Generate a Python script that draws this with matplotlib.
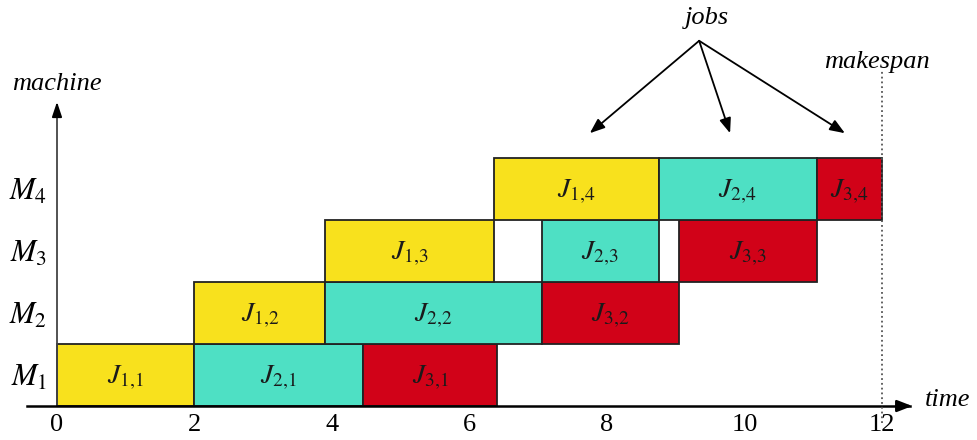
import numpy as np
import matplotlib.pyplot as plt

plt.rcParams['mathtext.fontset'] = 'stix'
plt.rcParams['font.family'] = ['Liberation Serif', 'DejaVu Serif']

machines = ['$M_1$', '$M_2$', '$M_3$', '$M_4$']
# per machine: (job, start, end)
m1 = [(1, 0.0, 2.0), (2, 2.0, 4.45), (3, 4.45, 6.4)]
m2 = [(1, 2.0, 3.9), (2, 3.9, 7.05), (3, 7.05, 9.05)]
m3 = [(1, 3.9, 6.35), (2, 7.05, 8.75), (3, 9.05, 11.05)]
m4 = [(1, 6.35, 8.75), (2, 8.75, 11.05), (3, 11.05, 12.0)]
schedule = [m1, m2, m3, m4]
makespan = 12
xticks = [0, 2, 4, 6, 8, 10, 12]
job_colors = {1: '#f8e11d', 2: '#4ee0c4', 3: '#d10218'}

fig = plt.figure(figsize=(9.78, 4.40), dpi=100)
ax = fig.add_axes([0, 0, 1, 1])
ax.set_xlim(-0.829, 13.396)
ax.set_ylim(-0.548, 6.548)

for m, tasks in enumerate(schedule):
    for job, start, end in tasks:
        ax.barh(m + 0.5, end - start, left=start, height=1.0,
                color=job_colors[job], edgecolor='#222222', lw=1.3, zorder=2)
        ax.text((start + end) / 2, m + 0.45, r'$J_{%d{,}%d}$' % (job, m + 1),
                ha='center', va='center', fontsize=20, color='#1a1a1a', zorder=3)

# axes as arrows
for s in ['top', 'right']:
    ax.spines[s].set_visible(False)
ax.spines['bottom'].set_position(('data', 0))
ax.spines['left'].set_position(('data', 0))
ax.spines['bottom'].set_bounds(-0.44, 12.4)
ax.spines['left'].set_bounds(0, 4.85)
ax.spines['bottom'].set_linewidth(1.8)
ax.spines['left'].set_linewidth(1.3)
ax.spines['left'].set_color('#444444')
ax.annotate('', xy=(12.48, 0), xytext=(12.2, 0),
            arrowprops=dict(arrowstyle='-|>,head_length=0.9,head_width=0.35',
                            color='black', lw=1.8))
ax.annotate('', xy=(0, 4.95), xytext=(0, 4.7),
            arrowprops=dict(arrowstyle='-|>,head_length=0.9,head_width=0.3',
                            color='black', lw=1.3))

ax.set_xticks(xticks)
ax.set_xticklabels([str(t) for t in xticks], fontsize=19)
ax.set_yticks(np.arange(4) + 0.5)
ax.set_yticklabels(machines, fontsize=22)
ax.tick_params(axis='x', length=0, pad=6)
ax.tick_params(axis='y', length=0, pad=7)

ax.text(0, 5.2, 'machine', ha='center', va='center', fontsize=19, style='italic')
ax.text(12.63, 0.1, 'time', ha='left', va='center', fontsize=19, style='italic')
ax.text(11.93, 5.55, 'makespan', ha='center', va='center', fontsize=19, style='italic')
ax.text(9.45, 6.26, 'jobs', ha='center', va='center', fontsize=19, style='italic')

ax.plot([makespan, makespan], [-0.27, 5.4], ls=':', color='#555555', lw=1.3, zorder=4)

for tx in [7.75, 9.79, 11.46]:
    ax.annotate('', xy=(tx, 4.4), xytext=(9.34, 5.89),
                arrowprops=dict(arrowstyle='-|>,head_length=0.9,head_width=0.35',
                                color='black', lw=1.3, shrinkA=0, shrinkB=0))

fig.savefig('out.png', dpi=100)
